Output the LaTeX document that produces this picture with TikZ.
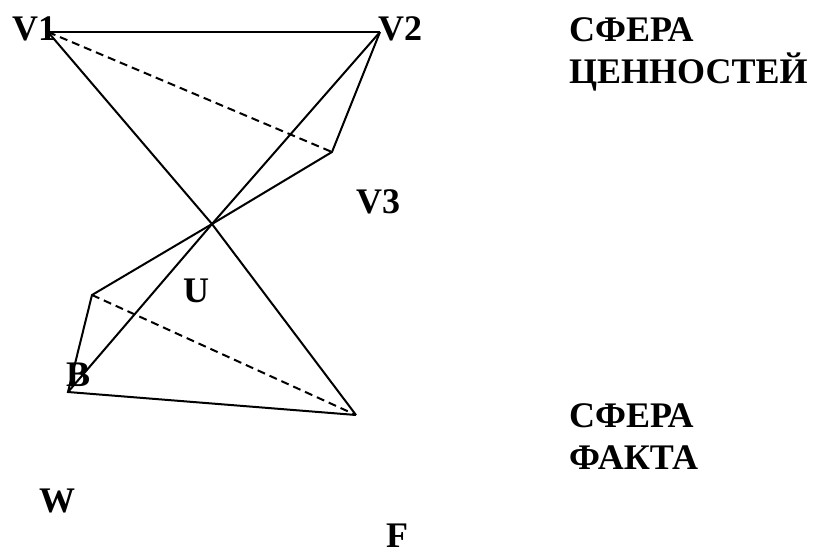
\documentclass[tikz,border=0pt]{standalone}
\usepackage{fontspec}
\setmainfont{Liberation Serif}
\usetikzlibrary{positioning}
\tikzset{
  edge/.style={line width=2pt, black, line join=miter},
  hidden/.style={edge, dash pattern=on 8pt off 5pt},
  vlabel/.style={font=\fontsize{36}{42}\selectfont\bfseries, anchor=base west, inner sep=0pt},
  spherelabel/.style={vlabel, align=left},
}

\begin{document}
\begin{tikzpicture}[x=1pt, y=-1pt]
  \useasboundingbox (0,0) rectangle (819,555);
  % vertices
  \coordinate (v1) at (48,32);
  \coordinate (v2) at (380,32);
  \coordinate (v3) at (332,152);
  \coordinate (x)  at (212,224);
  \coordinate (l)  at (92,295);
  \coordinate (b)  at (68,392);
  \coordinate (f)  at (356,415);
  % edges
  \draw[edge] (v1) -- (v2);
  \draw[edge] (v1) -- (x) -- (f);
  \draw[edge] (v2) -- (x) -- (b);
  \draw[edge] (v2) -- (v3) -- (x) -- (l) -- (b) -- (f);
  \draw[hidden] (v1) -- (v3);
  \draw[hidden] (l) -- (f);
  % labels
  \node[vlabel] (lv1) at (12,40) {V1};
  \node[vlabel] (lv2) at (378,40) {V2};
  \node[vlabel] (lv3) at (356,213) {V3};
  \node[vlabel] (lu)  at (183,302) {U};
  \node[vlabel] (lb)  at (66,386) {B};
  \node[vlabel] (lw)  at (39,512) {W};
  \node[vlabel] (lf)  at (386,547) {F};
  % last line sits on the given base
  \node[spherelabel] (values) at (569,83) {СФЕРА\\ЦЕННОСТЕЙ};
  \node[spherelabel] (facts)  at (569,469) {СФЕРА\\ФАКТА};
\end{tikzpicture}
\end{document}
